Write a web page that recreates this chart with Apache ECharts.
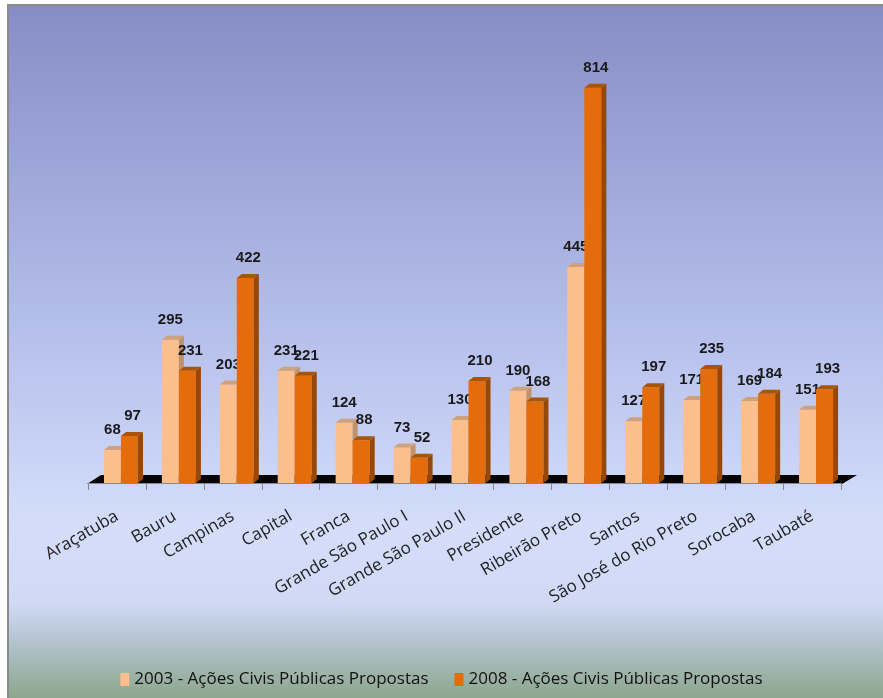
<!DOCTYPE html>
<html>
<head>
<meta charset="utf-8">
<script src="https://cdn.jsdelivr.net/npm/echarts@6/dist/echarts.min.js"></script>
<style>
html,body{margin:0;padding:0;background:#fff;}
#chart{width:883px;height:698px;}
</style>
</head>
<body>
<div id="chart"></div>
<script>
var categories = ["Araçatuba","Bauru","Campinas","Capital","Franca","Grande São Paulo I","Grande São Paulo II","Presidente","Ribeirão Preto","Santos","São José do Rio Preto","Sorocaba","Taubaté"];
var values2003 = [68, 295, 203, 231, 124, 73, 130, 190, 445, 127, 171, 169, 151];
var values2008 = [97, 231, 422, 221, 88, 52, 210, 168, 814, 197, 235, 184, 193];
var seriesNames = ["2003 - Ações Civis Públicas Propostas", "2008 - Ações Civis Públicas Propostas"];

var GRID = {left: 88, right: 42, top: 46, bottom: 215};
var W = 883, H = 698;

function bar3D(x0off, x1off, front, top, side, labelDx) {
  return function (params, api) {
    var i = api.value(0), v = api.value(1);
    var base = api.coord([i, 0]);
    var tp = api.coord([i, v]);
    var bw = api.size([1, 0])[0];
    var c = base[0];
    var x0 = c + bw * x0off, x1 = c + bw * x1off;
    var dx = 5, dy = 4;
    var yb = base[1], yt = tp[1];
    return {
      type: 'group',
      children: [
        {type: 'polygon', shape: {points: [[x0, yt], [x1, yt], [x1, yb], [x0, yb]]}, style: {fill: front}},
        {type: 'polygon', shape: {points: [[x1, yt], [x1 + dx, yt - dy], [x1 + dx, yb - dy], [x1, yb]]}, style: {fill: side}},
        {type: 'polygon', shape: {points: [[x0, yt], [x0 + dx, yt - dy], [x1 + dx, yt - dy], [x1, yt]]}, style: {fill: top}},
        {type: 'text', x: (x0 + x1) / 2 + labelDx, y: yt - 20, style: {
          text: String(v), textAlign: 'center', textVerticalAlign: 'middle',
          font: 'bold 15px "Liberation Sans", "DejaVu Sans", sans-serif', fill: '#1a1a1a'
        }}
      ]
    };
  };
}

var d2003 = categories.map(function (c, i) { return [i, values2003[i]]; });
var d2008 = categories.map(function (c, i) { return [i, values2008[i]]; });

var chart = echarts.init(document.getElementById('chart'), null, {renderer: 'canvas'});

var gl = GRID.left, gr = W - GRID.right, gb = H - GRID.bottom;

chart.setOption({
  animation: false,
  graphic: [
    {type: 'rect', z: -10, shape: {x: 8, y: 5, width: 876, height: 694},
      style: {
        fill: new echarts.graphic.LinearGradient(0, 0, 0, 1, [
          {offset: 0, color: '#868DC5'},
          {offset: 0.45, color: '#B3BDEA'},
          {offset: 0.75, color: '#D4DEFB'},
          {offset: 0.86, color: '#D0DAF5'},
          {offset: 0.92, color: '#B2C2CC'},
          {offset: 1, color: '#8BA58A'}
        ]),
        stroke: '#8a8a8a', lineWidth: 2
      }
    },
    {type: 'polygon', z: 0, shape: {points: [[gl - 1, gb + 1], [gr + 1, gb + 1], [gr + 16, gb - 8], [gl + 13, gb - 8]]},
      style: {fill: '#050505'}}
  ],
  grid: GRID,
  legend: {
    bottom: 5,
    left: 'center',
    itemWidth: 9,
    itemHeight: 13,
    itemGap: 26,
    icon: 'rect',
    textStyle: {fontFamily: '"Open Sans", sans-serif', fontSize: 17, color: '#111'},
    data: seriesNames
  },
  xAxis: {
    type: 'category',
    data: categories,
    offset: 2,
    axisLine: {show: true, lineStyle: {color: '#888', width: 1}},
    axisTick: {show: true, length: 7, lineStyle: {color: '#888'}},
    axisLabel: {interval: 0, rotate: 30, margin: 30, fontFamily: '"Open Sans", sans-serif', fontSize: 17, color: '#222'}
  },
  yAxis: {
    type: 'value', min: 0, max: 900, show: false, splitLine: {show: false}
  },
  series: [
    {
      name: seriesNames[0], type: 'custom', z: 5,
      itemStyle: {color: '#FBBF8E'},
      renderItem: bar3D(-0.2245, 0.069, '#FBBF8E', '#CFA27D', '#C0916B', 0),
      encode: {x: 0, y: 1},
      data: d2003
    },
    {
      name: seriesNames[1], type: 'custom', z: 6,
      itemStyle: {color: '#E46C0A'},
      renderItem: bar3D(0.069, 0.363, '#E46C0A', '#A85509', '#974707', 3),
      encode: {x: 0, y: 1},
      data: d2008
    }
  ]
});
</script>
</body>
</html>
